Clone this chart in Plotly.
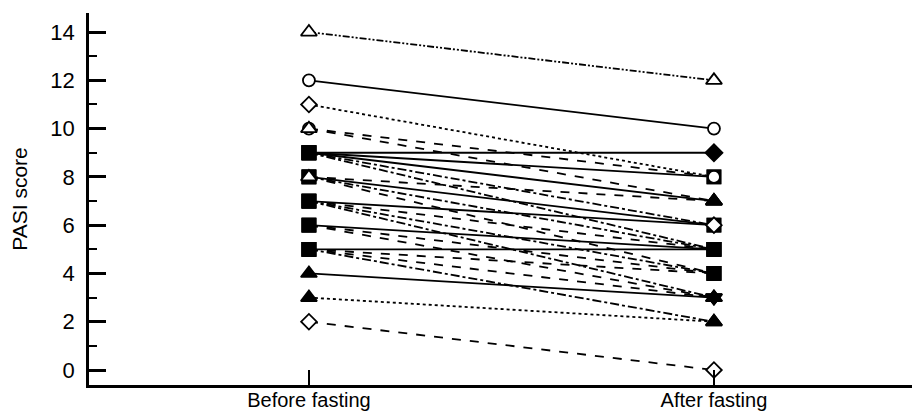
import plotly.graph_objects as go

# ---- data ----
categories = ["Before fasting", "After fasting"]
before = [14, 12, 11, 10, 10, 9, 9, 9, 9, 9, 8, 8, 8, 8, 7, 7, 7, 7, 6, 6, 6, 5, 5, 5, 5, 4, 3, 2]
after  = [12, 10, 8, 8, 7, 9, 8, 7, 6, 5, 7, 6, 5, 4, 6, 5, 4, 3, 5, 4, 3, 5, 4, 3, 2, 3, 2, 0]

# ---- styles ----
dash_dd = "7px,2px,2px,2px,2px,2px"
line_styles = [dash_dd, "solid", "dot", "dash", "dash", "solid", "solid", "solid", "dashdot", "dashdot",
               "dash", "solid", "dashdot", "dash", "solid", "dash", "dashdot", "dashdot",
               "solid", "dash", "dash", "solid", "dash", "dash", "dashdot", "solid", "dot", "dash"]
sym_before = ["triangle-up-o", "circle-o", "diamond-o", "circle-o", "triangle-up-o",
              "square", "square", "square", "square", "square",
              "triangle-up-o", "square", "square", "square",
              "square", "square", "square", "square",
              "square", "square", "square",
              "square", "square", "square", "square",
              "triangle-up", "triangle-up", "diamond-o"]
sym_after = ["triangle-up-o", "circle-o", "square", "circle-o", "triangle-up",
             "diamond", "square", "triangle-up", "square", "square",
             "triangle-up", "diamond-o", "square", "square",
             "square", "square", "square", "triangle-down",
             "square", "square", "triangle-up",
             "square", "square", "triangle-down", "triangle-up",
             "triangle-up", "triangle-up", "diamond-o"]

fig = go.Figure()

for b, a, d in zip(before, after, line_styles):
    fig.add_trace(go.Scatter(x=[0, 1], y=[b, a], mode="lines",
                             line=dict(color="black", width=1.8, dash=d),
                             hoverinfo="skip", showlegend=False))

# markers: filled ones first, open (white-filled) ones on top
pts = []
for b, a, sb, sa in zip(before, after, sym_before, sym_after):
    pts.append((0, b, sb))
    pts.append((1, a, sa))
pts.sort(key=lambda p: p[2].endswith("-o"))
xs = [p[0] for p in pts]
ys = [p[1] for p in pts]
syms = [p[2].replace("-o", "") for p in pts]
fills = ["white" if p[2].endswith("-o") else "black" for p in pts]
sizes = [14 if "triangle" in p[2] else (12 if p[2].endswith("-o") else 13) for p in pts]

fig.add_trace(go.Scatter(x=xs, y=ys, mode="markers",
                         marker=dict(symbol=syms, color=fills, size=sizes, opacity=1,
                                     line=dict(color="black", width=1.8)),
                         showlegend=False))

font_family = "Liberation Sans, Arial, sans-serif"
fig.update_layout(
    width=912, height=417,
    margin=dict(l=89, r=0, t=13, b=32),
    paper_bgcolor="white", plot_bgcolor="white",
    font=dict(family=font_family, color="black"),
    xaxis=dict(range=[-0.543, 1.489], tickvals=[0, 1], ticktext=categories,
               showline=True, linecolor="black", linewidth=3,
               ticks="inside", ticklen=15, tickwidth=2, tickcolor="black",
               showgrid=False, zeroline=False, tickfont=dict(size=20),
               ticklabelstandoff=-5, automargin=False),
    yaxis=dict(range=[-0.621, 14.79], tickvals=[0, 2, 4, 6, 8, 10, 12, 14],
               showline=True, linecolor="black", linewidth=2.5,
               ticks="inside", ticklen=17, tickwidth=2.5, tickcolor="black",
               minor=dict(tickvals=[1, 3, 5, 7, 9, 11, 13], ticks="inside", ticklen=8,
                          tickwidth=2, tickcolor="black", showgrid=False),
               showgrid=False, zeroline=False, tickfont=dict(size=22),
               ticklabelstandoff=7, automargin=False,
               title=dict(text="PASI score", font=dict(size=21), standoff=18)),
)

fig.write_html("out.html")
